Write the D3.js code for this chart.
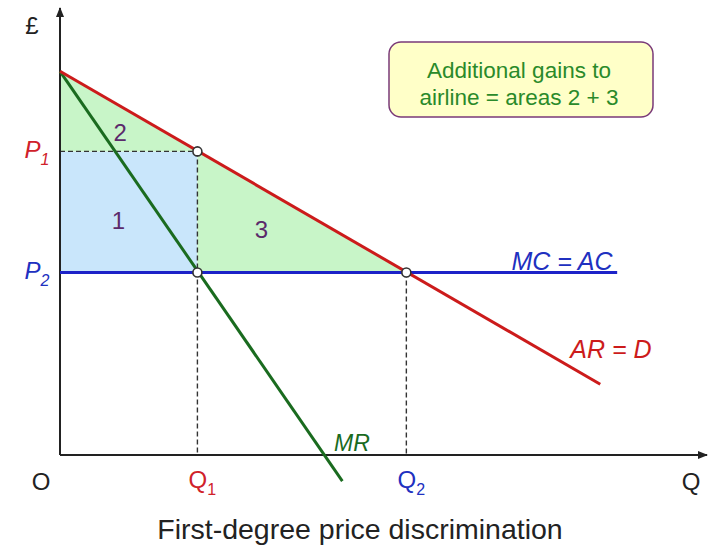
<!DOCTYPE html>
<html>
<head>
<meta charset="utf-8">
<script src="https://cdn.jsdelivr.net/npm/d3@7"></script>
<style>
  body { margin: 0; background: #fff; }
  text { font-family: "Liberation Sans", Arial, sans-serif; }
</style>
</head>
<body>
<script>
// curves (quantity, price)
var demandAR = [{q: 0, p: 10.3}, {q: 14.35, p: 1.9}];
var marginalMR = [{q: 0, p: 10.3}, {q: 7.5, p: -0.7}];
var costMC = [{q: 0, p: 4.9}, {q: 14.8, p: 4.9}];

var Q1 = 3.65, P1 = 8.15, Q2 = 9.2, P2 = 4.9;

var areaLabels = [
  {name: "1", q: 1.55, p: 6.25},
  {name: "2", q: 1.6, p: 8.6},
  {name: "3", q: 5.35, p: 6.0}
];
var boxLines = ["Additional gains to", "airline = areas 2 + 3"];
var title = "First-degree price discrimination";

var vis = {
  width: 720,
  height: 554,
  left: 60,
  right: 700,
  top: 10,
  bottom: 455
}

var x = d3.scaleLinear().domain([0, 17]).range([vis.left, vis.right]);
var y = d3.scaleLinear().domain([0, 12]).range([vis.bottom, 8]);

var svg = d3.select("body").append("svg")
  .attr("width", vis.width)
  .attr("height", vis.height);

var defs = svg.append("defs");
defs.append("marker")
  .attr("id", "flecha")
  .attr("viewBox", "0 0 10 10")
  .attr("refX", 9).attr("refY", 5)
  .attr("markerWidth", 5).attr("markerHeight", 5)
  .attr("orient", "auto")
  .append("path")
  .attr("d", "M0,1 L10,5 L0,9 Z")
  .attr("fill", "#222");

var linea = d3.line()
  .x(function(d) { return x(d.q); })
  .y(function(d) { return y(d.p); });

// areas: 1 blue, 2 and 3 green
svg.append("path")
  .attr("d", linea([{q: 0, p: P2}, {q: Q1, p: P2}, {q: Q1, p: P1}, {q: 0, p: P1}]) + "Z")
  .attr("fill", "#c9e6fb");
svg.append("path")
  .attr("d", linea([{q: 0, p: demandAR[0].p}, {q: Q1, p: P1}, {q: 0, p: P1}]) + "Z")
  .attr("fill", "#c8f5c8");
svg.append("path")
  .attr("d", linea([{q: Q1, p: P1}, {q: Q2, p: P2}, {q: Q1, p: P2}]) + "Z")
  .attr("fill", "#c8f5c8");

// dashed guides
var guias = [
  [{q: 0, p: P1}, {q: Q1, p: P1}],
  [{q: Q1, p: P1}, {q: Q1, p: 0}],
  [{q: Q2, p: P2}, {q: Q2, p: 0}]
];
svg.selectAll(".guia")
  .data(guias)
  .enter()
  .append("path")
  .attr("class", "guia")
  .attr("d", linea)
  .attr("fill", "none")
  .attr("stroke", "#333")
  .attr("stroke-width", 1.4)
  .attr("stroke-dasharray", "5,3");

// axes
svg.append("line")
  .attr("x1", x(0)).attr("y1", y(0))
  .attr("x2", x(0)).attr("y2", 8)
  .attr("stroke", "#222").attr("stroke-width", 2)
  .attr("marker-end", "url(#flecha)");
svg.append("line")
  .attr("x1", x(0)).attr("y1", y(0))
  .attr("x2", 707).attr("y2", y(0))
  .attr("stroke", "#222").attr("stroke-width", 2)
  .attr("marker-end", "url(#flecha)");

// curves
var curvas = [
  {datos: costMC, color: "#1c22c8"},
  {datos: marginalMR, color: "#1a6b1f"},
  {datos: demandAR, color: "#cc1b1b"}
];
svg.selectAll(".curva")
  .data(curvas)
  .enter()
  .append("path")
  .attr("class", "curva")
  .attr("d", function(d) { return linea(d.datos); })
  .attr("fill", "none")
  .attr("stroke", function(d) { return d.color; })
  .attr("stroke-width", 3);

// points
svg.selectAll(".punto")
  .data([{q: Q1, p: P1}, {q: Q1, p: P2}, {q: Q2, p: P2}])
  .enter()
  .append("circle")
  .attr("class", "punto")
  .attr("cx", function(d) { return x(d.q); })
  .attr("cy", function(d) { return y(d.p); })
  .attr("r", 4.5)
  .attr("fill", "#fff")
  .attr("stroke", "#333")
  .attr("stroke-width", 1.6);

// area numbers
svg.selectAll(".numero")
  .data(areaLabels)
  .enter()
  .append("text")
  .attr("class", "numero")
  .attr("x", function(d) { return x(d.q); })
  .attr("y", function(d) { return y(d.p); })
  .attr("text-anchor", "middle")
  .attr("dominant-baseline", "middle")
  .attr("font-size", 24)
  .attr("fill", "#5b2a6b")
  .text(function(d) { return d.name; });

// axis labels with subscripts
function etiqueta(txt, sub, px, py, color, italic) {
  var t = svg.append("text")
    .attr("x", px).attr("y", py)
    .attr("text-anchor", "middle")
    .attr("font-size", 24)
    .attr("fill", color)
    .attr("font-style", italic ? "italic" : "normal");
  t.append("tspan").text(txt);
  if (sub) {
    t.append("tspan").attr("dy", 7).attr("font-size", 16).text(sub);
  }
}
etiqueta("P", "1", 37, y(P1) + 7, "#d0212a", true);
etiqueta("P", "2", 37, y(P2) + 7, "#2030c0", true);
etiqueta("Q", "1", x(Q1) + 5, 488, "#d0212a", false);
etiqueta("Q", "2", x(Q2) + 5, 488, "#2030c0", false);
etiqueta("O", null, 41, 490, "#222", false);
etiqueta("Q", null, 691, 490, "#222", false);
etiqueta("£", null, 32, 34, "#222", false);

// curve labels
svg.append("text").attr("x", 352).attr("y", 451)
  .attr("text-anchor", "middle").attr("font-size", 23)
  .attr("font-style", "italic").attr("fill", "#1a6b1f").text("MR");
svg.append("text").attr("x", 562).attr("y", 270)
  .attr("text-anchor", "middle").attr("font-size", 25)
  .attr("font-style", "italic").attr("fill", "#2030c0").text("MC = AC");
svg.append("text").attr("x", 611).attr("y", 358)
  .attr("text-anchor", "middle").attr("font-size", 25)
  .attr("font-style", "italic").attr("fill", "#cc1b1b").text("AR = D");

// note box
svg.append("rect")
  .attr("x", 389).attr("y", 42)
  .attr("width", 264).attr("height", 75)
  .attr("rx", 12)
  .attr("fill", "#ffffc8")
  .attr("stroke", "#7a3a78")
  .attr("stroke-width", 1.5);
svg.selectAll(".nota")
  .data(boxLines)
  .enter()
  .append("text")
  .attr("class", "nota")
  .attr("x", 519)
  .attr("y", function(d, i) { return 78 + i * 27; })
  .attr("text-anchor", "middle")
  .attr("font-size", 22.5)
  .attr("fill", "#2a8a2a")
  .text(function(d) { return d; });

// title
svg.append("text")
  .attr("x", 360).attr("y", 539)
  .attr("text-anchor", "middle")
  .attr("font-size", 28.5)
  .attr("fill", "#222")
  .text(title);
</script>
</body>
</html>
